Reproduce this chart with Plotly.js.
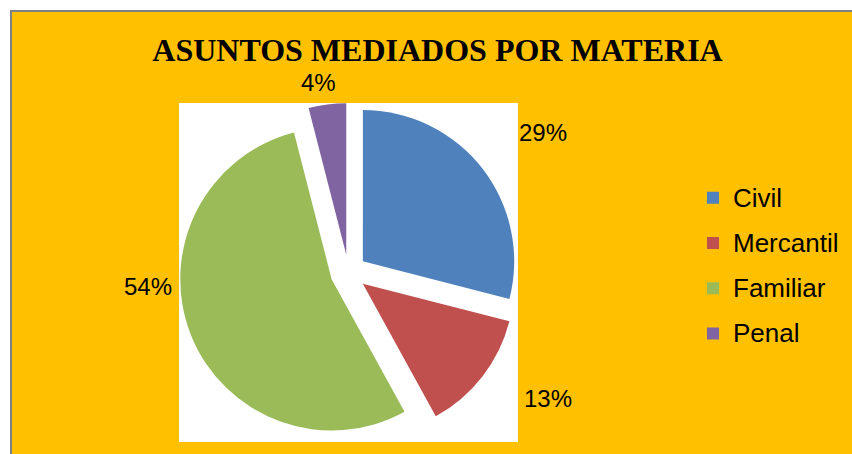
<!DOCTYPE html>
<html>
<head>
<meta charset="utf-8">
<script src="https://cdn.plot.ly/plotly-3.0.1.min.js"></script>
<style>html,body{margin:0;padding:0;background:#fff;}#chart{width:852px;height:454px;}</style>
</head>
<body>
<div id="chart"></div>
<script>
// ---- data ----
const categories = ['Civil', 'Mercantil', 'Familiar', 'Penal'];
const values = [29, 13, 54, 4];
const sliceColors = ['#4F81BD', '#C0504D', '#9BBB59', '#8064A2'];
const chartTitle = 'ASUNTOS MEDIADOS POR MATERIA';

// ---- layout geometry (pixels) ----
const W = 852, H = 454;
const L = 179, T = 103, PW = 339, PH = 339;
const R = W - L - PW, B = H - T - PH;
const px2x = p => (p - L) / PW;
const py2y = p => (T + PH - p) / PH;

// label anchor points (pixels), one per slice
const labelPx = [[542.5, 132.8], [548, 398.3], [147.7, 286], [318.7, 82.5]];

const total = values.reduce((a, b) => a + b, 0);
const pctText = values.map(v => Math.round(v / total * 100) + '%');

const trace = {
  type: 'pie',
  labels: categories.map(c => '<span style="font-size:26px;baseline-shift:4px">' + c + '</span>'),
  values: values,
  marker: { colors: sliceColors, line: { width: 0 } },
  sort: false,
  direction: 'clockwise',
  rotation: 0,
  pull: 0.12,
  textinfo: 'none',
  hoverinfo: 'none',
  automargin: false
};

const annotations = pctText.map((t, i) => ({
  xref: 'paper', yref: 'paper',
  x: px2x(labelPx[i][0]), y: py2y(labelPx[i][1]),
  xanchor: 'center', yanchor: 'middle',
  text: t, showarrow: false,
  font: { family: 'Liberation Sans, Arial, sans-serif', size: 24, color: '#000' }
}));

const rect = (x0, y0, x1, y1, color, layer) => ({
  type: 'rect', xref: 'paper', yref: 'paper',
  x0: px2x(x0), x1: px2x(x1), y0: py2y(y1), y1: py2y(y0),
  fillcolor: color, line: { width: 0 }, layer: layer || 'below'
});

const layout = {
  width: W, height: H,
  margin: { l: L, r: R, t: T, b: B, pad: 0, autoexpand: false },
  paper_bgcolor: '#FFC000',
  showlegend: true,
  title: {
    text: chartTitle,
    font: { family: 'Liberation Serif, Times New Roman, serif', size: 32, color: '#000', weight: 'bold' },
    xref: 'container', yref: 'container',
    x: 437.5 / W, xanchor: 'center',
    y: 1 - 50 / H, yanchor: 'middle'
  },
  legend: {
    font: { family: 'Liberation Sans, Arial, sans-serif', size: 32.5, color: '#000' },
    bgcolor: 'rgba(0,0,0,0)',
    x: px2x(693), xanchor: 'left',
    y: py2y(265.7), yanchor: 'middle',
    itemclick: false, itemdoubleclick: false
  },
  shapes: [
    rect(L, T, L + PW, T + PH, '#FFFFFF'),
    rect(0, 0, 10, H, '#FFFFFF'),
    rect(0, 0, W, 10, '#FFFFFF'),
    rect(10, 10, 12, H, '#7F7F7F'),
    rect(10, 10, W, 12, '#7F7F7F')
  ],
  annotations: annotations
};

Plotly.newPlot('chart', [trace], layout, { displayModeBar: false, staticPlot: true });
</script>
</body>
</html>
